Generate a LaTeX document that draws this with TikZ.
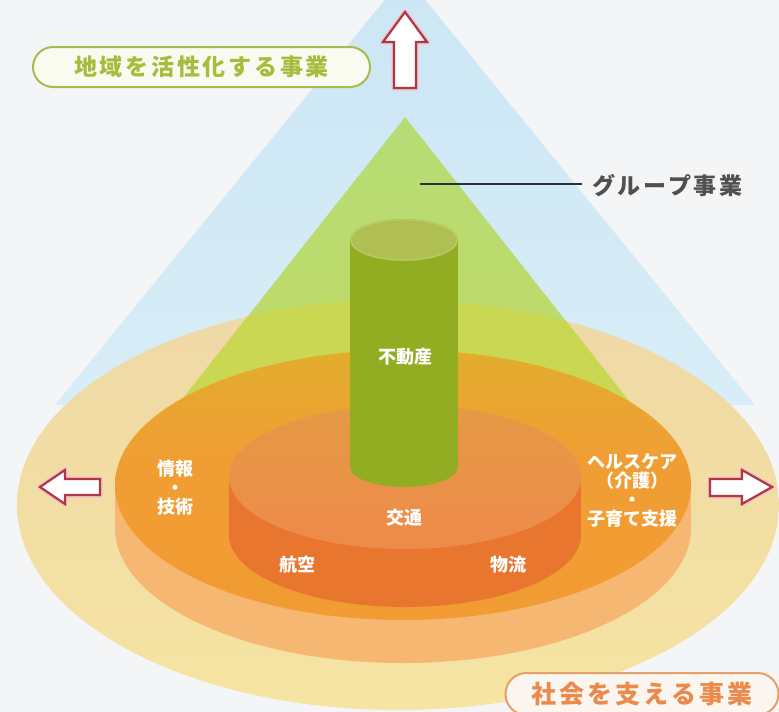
\documentclass[tikz,border=0pt]{standalone}
\usepackage{fontspec}
\newfontfamily\jp{Noto Sans CJK JP}
\newfontfamily\jpA[LetterSpace=12]{Noto Sans CJK JP}
\newfontfamily\jpB[LetterSpace=12]{Noto Sans CJK JP}
\definecolor{bg}{HTML}{F4F5F7}
\definecolor{bluetop}{HTML}{CCE6F5}
\definecolor{bluebot}{HTML}{D8EDF7}
\definecolor{beigetop}{HTML}{EFD8A6}
\definecolor{beigebot}{HTML}{F5E4A2}
\definecolor{greentop}{HTML}{B7DC76}
\definecolor{greenbot}{HTML}{C0DA64}
\definecolor{greenin}{HTML}{CAD752}
\definecolor{peach}{HTML}{F6B772}
\definecolor{gold}{HTML}{DDB22A}
\definecolor{orangeA}{HTML}{F09E34}
\definecolor{orangeB}{HTML}{F39A32}
\definecolor{darkor}{HTML}{E8762F}
\definecolor{innertop}{HTML}{E59A44}
\definecolor{innerbot}{HTML}{EE8A4B}
\definecolor{cyl}{HTML}{93AD23}
\definecolor{cyltop}{HTML}{AFBF52}
\definecolor{cylrim}{HTML}{BBC965}
\definecolor{arrowred}{HTML}{B03644}
\definecolor{arrowglow}{HTML}{F0C2C8}
\definecolor{topborder}{HTML}{A7BB50}
\definecolor{toptext}{HTML}{A6BC3C}
\definecolor{topfill}{HTML}{F9FAF0}
\definecolor{botborder}{HTML}{E7A06A}
\definecolor{bottext}{HTML}{EB8A4C}
\definecolor{botfill}{HTML}{FBF6F0}
\definecolor{grouptext}{HTML}{505050}
\definecolor{groupline}{HTML}{2A2F3A}
\pgfdeclareverticalshading{orshade}{100bp}{color(0bp)=(orangeB); color(55bp)=(orangeA); color(82bp)=(gold); color(100bp)=(gold)}
\tikzset{
  lab/.style={text=white, font=\jp\bfseries\fontsize{18}{19}\selectfont, inner sep=1pt, align=center},
  outarrow/.style={fill=white, draw=arrowred, line width=2.2pt, line join=miter},
  arrowhalo/.style={draw=arrowglow, line width=5pt, line join=round},
  topbox/.style={draw=topborder, fill=topfill, line width=2pt, rounded corners=20pt,
    minimum width=337pt, minimum height=40pt, text=toptext, font=\jpA\bfseries\fontsize{23}{26}\selectfont},
  botbox/.style={draw=botborder, fill=botfill, line width=2pt, rounded corners=21pt,
    minimum width=273pt, minimum height=42pt, text=bottext, font=\jpB\bfseries\fontsize{25}{28}\selectfont},
  grouplab/.style={text=grouptext, font=\jpB\bfseries\fontsize{23}{26}\selectfont, inner xsep=10pt, anchor=west}
}
\begin{document}
\begin{tikzpicture}[x=1pt,y=-1pt]
\useasboundingbox (0,0) rectangle (779,712);
\fill[bg] (0,0) rectangle (779,712);
\clip (0,0) rectangle (779,712);
% blue triangle (regional business)
\shade[top color=bluetop, bottom color=bluebot] (405,-25) -- (55,405) -- (755,405) -- cycle;
% outer beige ellipse (society)
\shade[top color=beigetop, bottom color=beigebot] (398,505) ellipse [x radius=381, y radius=205];
% green triangle (group)
\shade[top color=greentop, bottom color=greenbot] (405,117) -- (166,420) -- (644,420) -- cycle;
\begin{scope}
  \clip (398,505) ellipse [x radius=381, y radius=205];
  \fill[greenin] (405,117) -- (166,420) -- (644,420) -- cycle;
\end{scope}
% orange disc: side then top
\fill[peach] (403,528) ellipse [x radius=288, y radius=135];
\fill[peach] (115,485) rectangle (691,528);
\shade[shading=orshade] (403,485) ellipse [x radius=288, y radius=135];
% inner disc: side then top
\fill[darkor] (405,535) ellipse [x radius=176, y radius=72];
\fill[darkor] (229,477) rectangle (581,535);
\shade[top color=innertop, bottom color=innerbot] (405,477) ellipse [x radius=176, y radius=72];
% cylinder
\fill[cyl] (350,240) rectangle (458,467);
\fill[cyl] (404,467) ellipse [x radius=54, y radius=20];
\fill[cyltop] (404,240) ellipse [x radius=54, y radius=21];
\draw[cylrim, line width=1.2pt] (404,240) ellipse [x radius=53, y radius=20];
% labels
\node[lab] (fudosan) at (405,357) {不動産};
\node[lab] (kotsu) at (404,518) {交通};
\node[lab] (koku) at (297,565) {航空};
\node[lab] (butsuryu) at (508,565) {物流};
\node[lab] (joho) at (175,488) {情報\\・\\技術};
\node[lab] (health) at (632,490) {ヘルスケア\\（介護）\\・\\子育て支援};
% arrows
\path[arrowhalo] (405,12) -- (427,42) -- (416,42) -- (416,88) -- (394,88) -- (394,42) -- (383,42) -- cycle;
\path[outarrow] (405,12) -- (427,42) -- (416,42) -- (416,88) -- (394,88) -- (394,42) -- (383,42) -- cycle;
\path[arrowhalo] (40,487) -- (65,470) -- (65,479) -- (100,479) -- (100,495) -- (65,495) -- (65,504) -- cycle;
\path[outarrow] (40,487) -- (65,470) -- (65,479) -- (100,479) -- (100,495) -- (65,495) -- (65,504) -- cycle;
\path[arrowhalo] (772,487) -- (742,470) -- (742,479) -- (710,479) -- (710,496) -- (742,496) -- (742,504) -- cycle;
\path[outarrow] (772,487) -- (742,470) -- (742,479) -- (710,479) -- (710,496) -- (742,496) -- (742,504) -- cycle;
% boxes
\node[topbox] (chiiki) at (201.5,67) {地域を活性化する事業};
\node[botbox] (shakai) at (642,694) {社会を支える事業};
% group label
\node[grouplab] (group) at (582,186) {グループ事業};
\coordinate (gstart) at (420,184);
\draw[groupline, line width=1.8pt] (gstart) -- (group.west |- gstart);
\end{tikzpicture}
\end{document}
